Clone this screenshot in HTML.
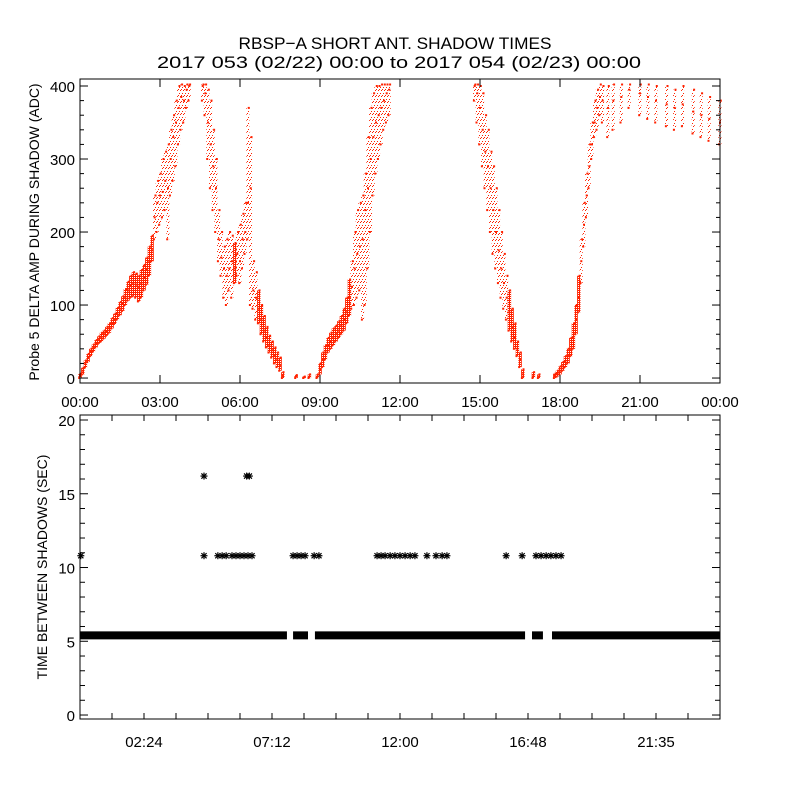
<!DOCTYPE html>
<html><head><meta charset="utf-8"><style>
html,body{margin:0;padding:0;background:#fff;}
svg{display:block;font-family:"Liberation Sans",sans-serif;}
</style></head><body>
<svg id="chart" width="800" height="800" viewBox="0 0 800 800" xmlns="http://www.w3.org/2000/svg">
<defs>
<pattern id="speckle" width="3" height="6" patternUnits="userSpaceOnUse"><rect x="0" y="0" width="1" height="1" fill="#ff2200"/><rect x="2" y="3" width="1" height="1" fill="#ff2200"/><rect x="1" y="5" width="1" height="1" fill="#ff2200"/></pattern>
<pattern id="dense" width="2" height="2" patternUnits="userSpaceOnUse"><rect x="0" y="0" width="2" height="1" fill="#ff2200"/><rect x="1" y="1" width="1" height="1" fill="#ff2200"/></pattern>
</defs>
<rect width="800" height="800" fill="#fff"/>
<text x="395" y="49" font-size="17" text-anchor="middle" textLength="313" lengthAdjust="spacingAndGlyphs">RBSP−A SHORT ANT. SHADOW TIMES</text>
<text x="399" y="68" font-size="17" text-anchor="middle" textLength="484" lengthAdjust="spacingAndGlyphs">2017 053 (02/22) 00:00 to 2017 054 (02/23) 00:00</text>
<g id="topPanel"></g>
<g id="botPanel"></g>
</svg>
<script>
// ---- Top panel data: time (hours), amplitude low / mid / high (ADC) ----
const sampleTimes = [0.0,0.1,0.2,0.3,0.4,0.5,0.6,0.7,0.8,0.9,1.0,1.1,1.2,1.3,1.4,1.5,1.6,1.7,1.8,1.9,2.0,2.1,2.2,2.3,2.4,2.5,2.6,2.7,2.8,2.9,3.0,3.1,3.2,3.3,3.4,3.5,3.6,3.7,3.8,3.9,4.0,4.1,
4.6,4.7,4.8,4.9,5.0,5.1,5.2,5.3,5.4,5.5,5.6,5.7,5.8,5.9,6.0,6.1,6.2,6.3,6.4,6.5,6.6,6.7,6.8,6.9,7.0,7.1,7.2,7.3,7.4,7.5,7.6,
8.1,8.4,8.6,
8.9,9.0,9.1,9.2,9.3,9.4,9.5,9.6,9.7,9.8,9.9,10.0,10.1,10.2,10.3,10.4,10.5,10.6,10.7,10.8,10.9,11.0,11.1,11.2,11.3,11.4,11.5,11.6,
14.8,14.9,15.0,15.1,15.2,15.3,15.4,15.5,15.6,15.7,15.8,15.9,16.0,16.1,16.2,16.3,16.4,16.5,16.6,
17.0,17.2,
17.8,17.9,18.0,18.1,18.2,18.3,18.4,18.5,18.6,18.7,18.8,18.9,19.0,19.1,19.2,19.3,19.4,19.5,19.6,19.8,20.0,20.3,20.6,21.0,21.3,21.6,22.0,22.3,22.6,23.0,23.3,23.6,24.0];
const ampLow = [0,5,14,22,30,36,42,47,50,54,58,62,68,74,80,86,92,100,106,110,112,110,105,110,120,128,140,160,190,200,210,220,230,190,250,270,290,320,340,350,370,380,
380,360,300,260,230,200,160,140,110,100,120,110,130,140,130,150,170,190,100,95,80,75,60,50,42,35,28,20,15,10,0,
0,0,0,
0,5,15,25,35,40,45,50,55,60,65,75,85,95,100,110,120,80,100,150,200,250,280,300,320,340,350,360,
380,350,320,290,260,230,200,170,150,130,110,95,80,65,50,40,30,15,0,
0,0,
0,2,5,10,15,20,30,40,60,90,130,180,220,260,300,330,340,360,350,330,340,350,370,360,355,350,345,340,345,335,330,325,320];
const ampMid = [3,10,20,28,36,42,47,52,56,60,64,68,74,80,88,95,102,110,120,126,130,128,125,130,138,148,160,175,220,240,250,255,270,260,300,330,350,370,385,380,395,400,
400,390,350,320,290,260,190,165,150,140,150,160,150,170,160,190,200,240,260,120,110,95,80,65,55,45,38,30,25,18,3,
2,1,2,
2,12,25,35,45,50,55,60,65,72,80,90,110,125,150,170,180,190,230,260,300,330,350,360,370,380,390,395,
400,390,370,340,310,290,260,230,200,175,150,130,110,90,70,55,40,25,5,
3,2,
3,6,10,16,22,30,40,55,80,110,160,210,250,290,320,350,370,385,380,370,380,385,395,390,385,380,375,370,375,365,360,355,350];
const ampHigh = [6,14,24,33,40,46,52,57,62,65,70,75,82,88,96,104,112,122,132,140,145,143,140,148,155,165,180,195,250,270,280,300,310,320,340,360,380,400,405,400,405,405,
405,405,395,380,340,300,230,200,180,190,200,195,185,200,210,225,240,370,330,160,145,120,100,85,70,58,50,42,35,28,8,
4,2,5,
5,20,35,45,55,62,68,72,78,85,95,110,135,160,200,230,240,250,280,330,370,390,400,400,405,405,405,405,
405,405,400,390,360,340,310,290,260,230,200,170,140,120,95,75,50,35,12,
8,5,
6,10,16,22,30,40,55,75,100,140,190,240,280,320,350,380,395,405,400,400,405,405,405,405,405,400,400,395,400,395,390,385,380];

// ---- Bottom panel data ----
const baseRunStart = [0.0, 7.99, 8.81, 16.95, 17.70];
const baseRunEnd   = [7.76, 8.55, 16.69, 17.36, 24.0];
const baseValue = 5.4;
const gapTimes  = [0.03,4.65,5.17,5.33,5.48,5.7,5.85,6.0,6.15,6.3,6.45,7.99,8.14,8.29,8.44,8.78,8.96,11.14,11.29,11.44,11.63,11.81,12.0,12.19,12.38,12.56,13.01,13.35,13.58,13.76,15.98,16.58,17.1,17.29,17.48,17.66,17.85,18.04,4.65,6.25,6.35];
const gapValues = [10.8,10.8,10.8,10.8,10.8,10.8,10.8,10.8,10.8,10.8,10.8,10.8,10.8,10.8,10.8,10.8,10.8,10.8,10.8,10.8,10.8,10.8,10.8,10.8,10.8,10.8,10.8,10.8,10.8,10.8,10.8,10.8,10.8,10.8,10.8,10.8,10.8,10.8,16.2,16.2,16.2];

const topYTicks = [0,100,200,300,400];
const topXLabels = ["00:00","03:00","06:00","09:00","12:00","15:00","18:00","21:00","00:00"];
const botYTicks = [0,5,10,15,20];
const botXLabels = ["02:24","07:12","12:00","16:48","21:35"];

const NS="http://www.w3.org/2000/svg";
function mk(tag, parent, attrs){const e=document.createElementNS(NS,tag);for(const k in attrs)e.setAttribute(k,attrs[k]);parent.appendChild(e);return e;}

const L=80,R=720;
const tx = t => L + t*(R-L)/24;
const tY0=383, tY1=79, tMin=-6.8, tMax=409.6;
const ty = v => tY0 - (v-tMin)*(tY0-tY1)/(tMax-tMin);
const bY0=719, bY1=415, bMin=-0.27, bMax=20.34;
const by = v => bY0 - (v-bMin)*(bY0-bY1)/(bMax-bMin);

const topG=document.getElementById('topPanel');
const botG=document.getElementById('botPanel');

// top series
const ser=mk('g',topG,{});


for(let i=0;i<sampleTimes.length;i++){
  if(ampLow[i]===undefined||ampHigh[i]===undefined||ampMid[i]===undefined) continue;
  const x=tx(sampleTimes[i]);
  const y1=ty(Math.min(ampHigh[i],402)), y0=ty(ampLow[i]);
  const narrow=(ampHigh[i]-ampLow[i])<60 && ampHigh[i]<200;
  const c=mk('rect',ser,{x:(x-1.6).toFixed(1),y:y1.toFixed(1),width:narrow?3.4:3,height:Math.max(1,y0-y1).toFixed(1),fill:narrow?'url(#dense)':'url(#speckle)'});
  
  
  [ampLow[i],ampMid[i],ampHigh[i]].forEach((v,j)=>{
    const d=mk('rect',ser,{x:(x-1+(j-1)*0.8).toFixed(1),y:(ty(Math.min(v,402))-1).toFixed(1),width:2,height:2,fill:'#ff2200'});
    
    
  });
}
// top frame & ticks
const tf=mk('rect',topG,{x:L,y:tY1,width:R-L,height:tY0-tY1,fill:'none',stroke:'#000','stroke-width':1});


for(let v=0;v<=400;v+=20){
  const y=ty(v), len=(v%100==0)?8:4;
  mk('line',topG,{x1:L,x2:L+len,y1:y,y2:y,stroke:'#000'});
  mk('line',topG,{x1:R,x2:R-len,y1:y,y2:y,stroke:'#000'});
}
topYTicks.forEach(v=>{
  const t=mk('text',topG,{x:L-5,y:ty(v)+6,'font-size':15,'text-anchor':'end'});t.textContent=v;
  
  
});
topXLabels.forEach((s,i)=>{
  const x=tx(i*3);
  mk('line',topG,{x1:x,x2:x,y1:tY0,y2:tY0-8,stroke:'#000'});
  mk('line',topG,{x1:x,x2:x,y1:tY1,y2:tY1+8,stroke:'#000'});
  const t=mk('text',topG,{x:x,y:407,'font-size':15,'text-anchor':'middle'});t.textContent=s;
  
  
});
const tt=mk('text',topG,{x:0,y:0,'font-size':14,'text-anchor':'middle',transform:'translate(39,232) rotate(-90)'});
tt.textContent='Probe 5 DELTA AMP DURING SHADOW (ADC)';



// bottom series
const bs=mk('g',botG,{});


for(let i=0;i<baseRunStart.length;i++){
  const r=mk('rect',bs,{x:tx(baseRunStart[i]),y:by(baseValue)-4,width:Math.max(2,tx(baseRunEnd[i])-tx(baseRunStart[i])),height:8,fill:'#000'});
  
  
}
for(let i=0;i<gapTimes.length;i++){
  const x=tx(gapTimes[i]), y=by(gapValues[i]);
  const g=mk('g',bs,{stroke:'#000','stroke-width':1.2});
  
  
  mk('line',g,{x1:x-3.5,x2:x+3.5,y1:y,y2:y});
  mk('line',g,{x1:x,x2:x,y1:y-3.5,y2:y+3.5});
  mk('line',g,{x1:x-2.6,x2:x+2.6,y1:y-2.6,y2:y+2.6});
  mk('line',g,{x1:x-2.6,x2:x+2.6,y1:y+2.6,y2:y-2.6});
}
const bf=mk('rect',botG,{x:L,y:bY1,width:R-L,height:bY0-bY1,fill:'none',stroke:'#000','stroke-width':1});


for(let v=0;v<=20;v+=1){
  const y=by(v), len=(v%5==0)?8:5;
  mk('line',botG,{x1:L,x2:L+len,y1:y,y2:y,stroke:'#000'});
  mk('line',botG,{x1:R,x2:R-len,y1:y,y2:y,stroke:'#000'});
}
botYTicks.forEach(v=>{
  const t=mk('text',botG,{x:L-5,y:by(v)+6,'font-size':15,'text-anchor':'end'});t.textContent=v;
  
  
});
for(let k=1;k<20;k++){
  const x=tx(k*1.2);
  mk('line',botG,{x1:x,x2:x,y1:bY0,y2:bY0-6,stroke:'#000'});
  mk('line',botG,{x1:x,x2:x,y1:bY1,y2:bY1+6,stroke:'#000'});
}
botXLabels.forEach((s,i)=>{
  const t=mk('text',botG,{x:tx(2.4+i*4.8),y:747,'font-size':15,'text-anchor':'middle'});t.textContent=s;
  
  
});
const bt=mk('text',botG,{x:0,y:0,'font-size':14,'text-anchor':'middle',transform:'translate(47,567) rotate(-90)'});
bt.textContent='TIME BETWEEN SHADOWS (SEC)';


</script>
</body></html>
